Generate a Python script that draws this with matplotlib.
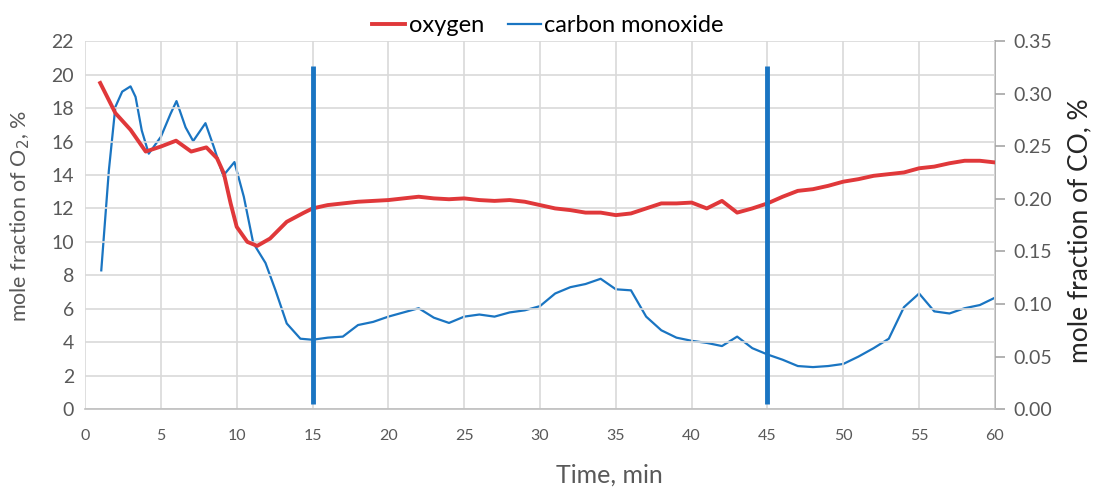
import numpy as np
import matplotlib.pyplot as plt

plt.rcParams['font.family'] = ['Lato', 'DejaVu Sans']

# oxygen
o2_time = [1, 2, 3, 4, 5, 6, 7, 8, 8.7, 9.15, 9.6, 10, 10.7, 11.35, 12.2, 13.3, 14.4,
           15, 16, 17, 18, 19, 20, 21, 22, 23, 24, 25, 26, 27, 28, 29, 30,
           31, 32, 33, 34, 35, 36, 37, 38, 39, 40, 41, 42, 43, 44, 45,
           46, 47, 48, 49, 50, 51, 52, 53, 54, 55, 56, 57, 58, 59, 60]
oxygen = [19.5, 17.7, 16.7, 15.4, 15.7, 16.05, 15.4, 15.65, 15.0, 14.1, 12.3, 10.9, 10.0, 9.76, 10.2, 11.2, 11.73,
          12.0, 12.2, 12.3, 12.4, 12.45, 12.5, 12.6, 12.7, 12.6, 12.55, 12.6, 12.5, 12.45, 12.5, 12.4, 12.2,
          12.0, 11.9, 11.75, 11.75, 11.6, 11.7, 12.0, 12.3, 12.3, 12.35, 12.0, 12.45, 11.75, 12.0, 12.3,
          12.7, 13.05, 13.15, 13.35, 13.6, 13.75, 13.95, 14.05, 14.15, 14.4, 14.5, 14.7, 14.85, 14.85, 14.75]

# carbon monoxide
co_time = [1.07, 1.57, 2.0, 2.45, 3.0, 3.33, 3.74, 4.2, 5, 5.64, 6.03, 6.63, 7.13, 7.94, 8.5, 9.11,
           9.85, 10.47, 11.09, 11.9, 12.56, 13.3, 14.2,
           15, 16, 17, 18, 19, 20, 21, 22, 23, 24, 25, 26, 27, 28, 29, 30,
           31, 32, 33, 34, 35, 36, 37, 38, 39, 40, 41, 42, 43, 44, 45,
           46, 47, 48, 49, 50, 51, 52, 53, 54, 55, 56, 57, 58, 59, 60]
carbon_monoxide = [0.132, 0.227, 0.2875, 0.302, 0.307, 0.297, 0.265, 0.243, 0.259, 0.281, 0.293, 0.268, 0.255, 0.272, 0.249, 0.222,
                   0.235, 0.202, 0.158, 0.139, 0.113, 0.0815, 0.067,
                   0.066, 0.068, 0.069, 0.080, 0.083, 0.088, 0.092, 0.096, 0.087, 0.082, 0.088, 0.090, 0.088, 0.092, 0.094, 0.098,
                   0.110, 0.116, 0.119, 0.124, 0.114, 0.113, 0.088, 0.075, 0.068, 0.065, 0.063, 0.060, 0.069, 0.058, 0.052,
                   0.047, 0.041, 0.040, 0.041, 0.043, 0.050, 0.058, 0.067, 0.097, 0.110, 0.093, 0.091, 0.096, 0.099, 0.106]

# marker lines (left axis units)
mark_x = [15, 45]
mark_lo = 0.3
mark_hi = 20.5

red = '#e0383a'
blue = '#1a75c2'
grey = '#595959'

fig = plt.figure(figsize=(10.96, 4.9), dpi=100)
ax = fig.add_axes([0.0776, 0.165, 0.8302, 0.751])
ax2 = ax.twinx()

ax.set_zorder(ax2.get_zorder() + 1)
ax.patch.set_visible(False)

ax.set_xlim(0, 60)
ax.set_ylim(0, 22)
ax2.set_ylim(0, 0.35)

ax.set_xticks(np.arange(0, 61, 5))
ax.set_yticks(np.arange(0, 23, 2))
ax2.set_yticks(np.arange(0, 0.36, 0.05))
ax2.set_yticklabels(['%.2f' % v for v in np.arange(0, 0.36, 0.05)])

ax.grid(True, color='#d9d9d9', linewidth=1.2)
ax.set_axisbelow(True)

for s in ['top', 'left', 'right']:
    ax.spines[s].set_visible(False)
for s in ['top', 'left', 'bottom']:
    ax2.spines[s].set_visible(False)
ax.spines['bottom'].set_color('#bfbfbf')
ax.spines['bottom'].set_linewidth(1.2)
ax2.spines['right'].set_color('#a6a6a6')
ax2.spines['right'].set_linewidth(1.2)

ax.tick_params(axis='x', length=0, labelsize=11.5, labelcolor=grey, pad=14)
ax.tick_params(axis='y', length=0, labelsize=14, labelcolor=grey, pad=8)
ax2.tick_params(axis='y', length=7, width=1.2, color='#a6a6a6', labelsize=14, labelcolor=grey, pad=6)

ax2.plot(co_time, carbon_monoxide, color=blue, linewidth=1.6, label='carbon monoxide')
ax.plot(o2_time, oxygen, color=red, linewidth=2.8, label='oxygen')
for mx in mark_x:
    ax.plot([mx, mx], [mark_lo, mark_hi], color=blue, linewidth=3.5, solid_capstyle='butt')

ax.set_xlabel('Time, min', fontsize=18, color=grey)
ax.xaxis.set_label_coords(0.576, -0.147)
ax.set_ylabel('mole fraction of O$_2$, %', fontsize=15.5, color=grey)
ax.yaxis.set_label_coords(-0.058, 0.524)
ax2.set_ylabel('mole fraction of CO, %', fontsize=19, color='#262626')
ax2.yaxis.set_label_coords(1.079, 0.484)

h1, l1 = ax.get_legend_handles_labels()
h2, l2 = ax2.get_legend_handles_labels()
fig.legend([h1[0], h2[0]], [l1[0], l2[0]], loc='upper center', bbox_to_anchor=(0.5, 1.012),
           ncol=2, frameon=False, fontsize=17, handlelength=1.4, handletextpad=0.15,
           columnspacing=1.0)

fig.savefig('out.png', dpi=100)
